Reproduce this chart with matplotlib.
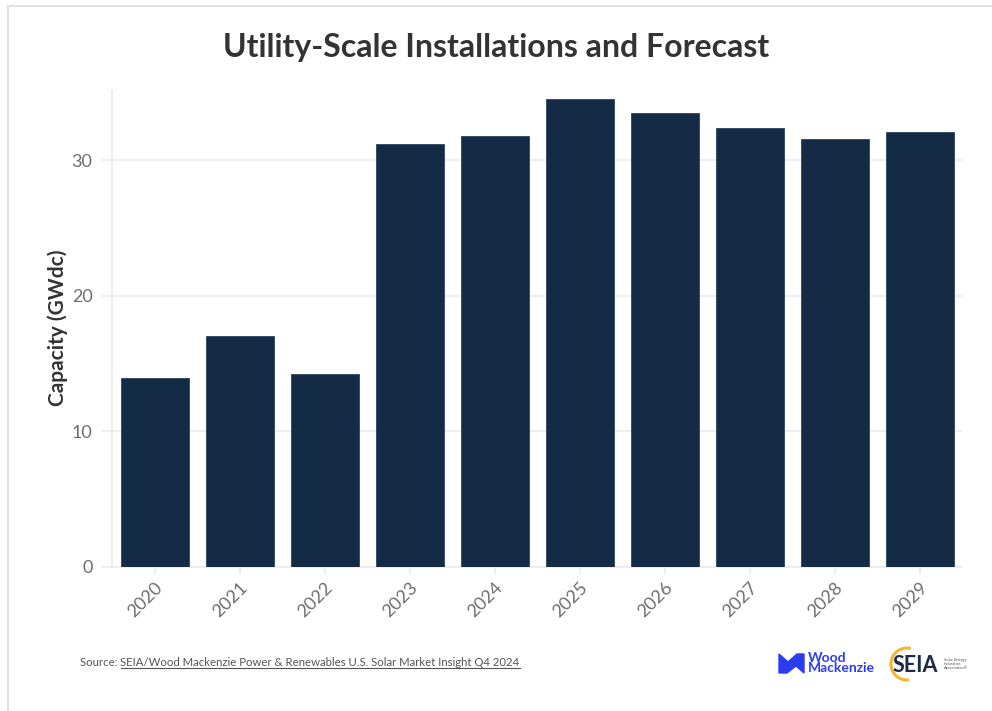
import matplotlib
matplotlib.use("Agg")
import matplotlib.pyplot as plt
from matplotlib.patches import Polygon, Arc
from matplotlib.lines import Line2D

plt.rcParams["font.family"] = ["Lato", "DejaVu Sans"]

years = ["2020", "2021", "2022", "2023", "2024", "2025", "2026", "2027", "2028", "2029"]
capacity_gwdc = [13.9, 17.0, 14.2, 31.2, 31.8, 34.5, 33.5, 32.4, 31.6, 32.1]
y_ticks = [0, 10, 20, 30]

title = "Utility-Scale Installations and Forecast"
y_label = "Capacity (GWdc)"
source_prefix = "Source: "
source_link = "SEIA/Wood Mackenzie Power & Renewables U.S. Solar Market Insight Q4 2024"

BAR = "#132b45"
GRID = "#ebebeb"
TICK_TXT = "#6e6e6e"

fig = plt.figure(figsize=(9.92, 7.11), dpi=100)
fig.patch.set_facecolor("white")


def fx(px):
    return px / 992


def fy(py):
    return 1 - py / 711


# thin card frame along the top and left edge
fig.add_artist(Line2D([fx(8), 1.0], [fy(6), fy(6)], color="#e2e2e2", lw=1.5))
fig.add_artist(Line2D([fx(8), fx(8)], [0.0, fy(6)], color="#e2e2e2", lw=1.5))

ax = fig.add_axes([fx(112), fy(566.5), 850 / 992, (566.5 - 90) / 711])
x = list(range(len(years)))
ax.bar(x, capacity_gwdc, width=0.8, color=BAR, edgecolor="#2c4560", linewidth=0.6, zorder=3)

ax.set_xlim(-0.5, len(years) - 0.5)
ax.set_ylim(0, 35.2)
ax.set_yticks(y_ticks)
ax.set_xticks(x)
ax.set_xticklabels(years, rotation=45, ha="right", rotation_mode="anchor")
ax.yaxis.grid(True, color=GRID, lw=1.2, zorder=0)
ax.set_axisbelow(True)

for side in ("top", "right"):
    ax.spines[side].set_visible(False)
for side in ("left", "bottom"):
    ax.spines[side].set_color(GRID)
    ax.spines[side].set_linewidth(1.2)

ax.tick_params(axis="y", length=8, width=1.2, color=GRID, labelsize=13,
               labelcolor=TICK_TXT, pad=6)
ax.tick_params(axis="x", length=5, width=1.2, color=GRID, labelsize=13,
               labelcolor=TICK_TXT, pad=4)

ax.set_ylabel(y_label, fontsize=15, fontweight="bold", color="#333333")
ax.yaxis.set_label_coords((68 - 112) / 850, 0.5)

fig.text(0.5, fy(48), title, ha="center", va="center", fontsize=23,
         fontweight="bold", color="#333333")

# source line with underlined link text
fig.canvas.draw()
renderer = fig.canvas.get_renderer()
t1 = fig.text(fx(80), fy(663), source_prefix, ha="left", va="center",
              fontsize=8.2, color="#555555")
bb1 = t1.get_window_extent(renderer)
t2 = fig.text(bb1.x1 / fig.bbox.width, fy(663), source_link, ha="left", va="center",
              fontsize=8.2, color="#555555")
bb2 = t2.get_window_extent(renderer)
uy = (bb2.y0 + 1) / fig.bbox.height
fig.add_artist(Line2D([bb2.x0 / fig.bbox.width, bb2.x1 / fig.bbox.width], [uy, uy],
                      color="#555555", lw=0.8))

# Wood Mackenzie mark and wordmark
wm_blue = "#2b3cf0"
logo = Polygon([(fx(779), fy(673)), (fx(779), fy(654)), (fx(788), fy(662)),
                (fx(797), fy(654)), (fx(804), fy(654)), (fx(804), fy(673)),
                (fx(796), fy(666)), (fx(787), fy(673))],
               closed=True, color=wm_blue, transform=fig.transFigure)
fig.add_artist(logo)
fig.text(fx(808), fy(663), "Wood\nMackenzie", ha="left", va="center", fontsize=10,
         fontweight="bold", color=wm_blue, linespacing=0.85)

# SEIA mark
arc = Arc((fx(907), fy(664)), 32 / 992, 32 / 711, theta1=80, theta2=275,
          color="#f2b632", lw=2.2, transform=fig.transFigure)
fig.add_artist(arc)
fig.text(fx(893), fy(665), "SEIA", ha="left", va="center", fontsize=15.5,
         fontweight="bold", color="#1c2b4a")
fig.text(fx(944), fy(664), "Solar Energy\nIndustries\nAssociation\u00ae", ha="left",
         va="center", fontsize=3, color="#555555", linespacing=1.0)

fig.savefig("out.png", dpi=100, facecolor="white")
